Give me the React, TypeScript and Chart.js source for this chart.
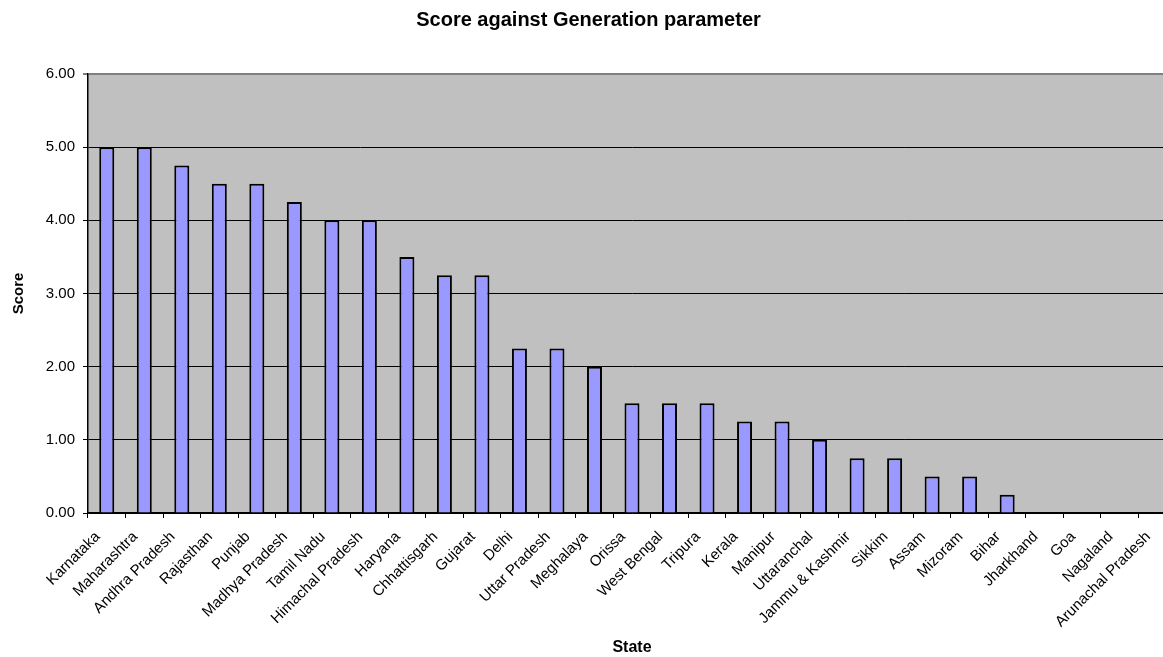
import React, { useEffect, useRef } from "react";
import { Chart, registerables } from "chart.js";

Chart.register(...registerables);

const states = [
  "Karnataka", "Maharashtra", "Andhra Pradesh", "Rajasthan", "Punjab", "Madhya Pradesh",
  "Tamil Nadu", "Himachal Pradesh", "Haryana", "Chhattisgarh", "Gujarat", "Delhi",
  "Uttar Pradesh", "Meghalaya", "Orissa", "West Bengal", "Tripura", "Kerala", "Manipur",
  "Uttaranchal", "Jammu & Kashmir", "Sikkim", "Assam", "Mizoram", "Bihar", "Jharkhand",
  "Goa", "Nagaland", "Arunachal Pradesh",
];
const scores = [
  5, 5, 4.75, 4.5, 4.5, 4.25, 4, 4, 3.5, 3.25, 3.25, 2.25, 2.25, 2, 1.5, 1.5, 1.5, 1.25, 1.25,
  1, 0.75, 0.75, 0.5, 0.5, 0.25, 0, 0, 0, 0,
];
const chartTitle = "Score against Generation parameter";
const xTitle = "State";
const yTitle = "Score";

const FONT = "'Liberation Sans', Arial, sans-serif";
const W = 1180;
const H = 657;

const plotBg = {
  id: "plotBg",
  beforeDraw(chart: any) {
    const { ctx, chartArea } = chart;
    ctx.save();
    ctx.fillStyle = "#C0C0C0";
    ctx.fillRect(chartArea.left, chartArea.top, chartArea.right - chartArea.left, chartArea.bottom - chartArea.top);
    ctx.restore();
  },
};

export default function App() {
  const ref = useRef<HTMLCanvasElement>(null);
  useEffect(() => {
    if (!ref.current) return;
    const chart = new Chart(ref.current, {
      type: "bar",
      data: {
        labels: states,
        datasets: [
          {
            data: scores,
            backgroundColor: "#9999FF",
            borderColor: "#000000",
            borderWidth: 2,
            barPercentage: 0.4,
            categoryPercentage: 1,
          },
        ],
      },
      options: {
        animation: false,
        responsive: false,
        devicePixelRatio: 1,
        layout: { padding: { left: 0, right: 3, top: 0, bottom: 0 } },
        plugins: {
          legend: { display: false },
          tooltip: { enabled: false },
          title: {
            display: true,
            text: chartTitle,
            color: "#000",
            font: { family: FONT, size: 20, weight: "bold" },
            padding: { top: 8, bottom: 42 },
          },
        },
        scales: {
          x: {
            grid: { offset: true, drawOnChartArea: false, drawTicks: true, tickLength: 5, color: "#000" },
            border: { display: true, color: "#000", width: 1.5 },
            ticks: {
              color: "#000",
              font: { family: FONT, size: 15 },
              maxRotation: 45,
              minRotation: 45,
              autoSkip: false,
              padding: 10,
              labelOffset: -9,
            },
            title: {
              display: true,
              text: xTitle,
              color: "#000",
              font: { family: FONT, size: 16, weight: "bold" },
              padding: { top: 4, bottom: 0 },
            },
            afterFit(scale: any) {
              scale.height = 144;
            },
          },
          y: {
            min: 0,
            max: 6,
            grid: {
              drawTicks: true,
              tickLength: 5,
              color: (c: any) => (c.tick && c.tick.value === 6 ? "#808080" : "#000"),
              lineWidth: (c: any) => (c.tick && c.tick.value === 6 ? 2 : 1),
            },
            border: { display: true, color: "#000", width: 1.5 },
            ticks: {
              stepSize: 1,
              color: "#000",
              font: { family: FONT, size: 15 },
              padding: 8,
              callback: (v: any) => Number(v).toFixed(2),
            },
            title: {
              display: true,
              text: yTitle,
              color: "#000",
              font: { family: FONT, size: 15, weight: "bold" },
              padding: { top: 10, bottom: 4 },
            },
            afterFit(scale: any) {
              scale.width = 88;
            },
          },
        },
      },
      plugins: [plotBg],
    });
    return () => chart.destroy();
  }, []);
  return (
    <div style={{ position: "fixed", left: 0, top: 0, width: 1163, height: 657, overflow: "hidden", background: "#fff" }}>
      <canvas ref={ref} width={W} height={H} style={{ width: W, height: H, display: "block" }} />
    </div>
  );
}
